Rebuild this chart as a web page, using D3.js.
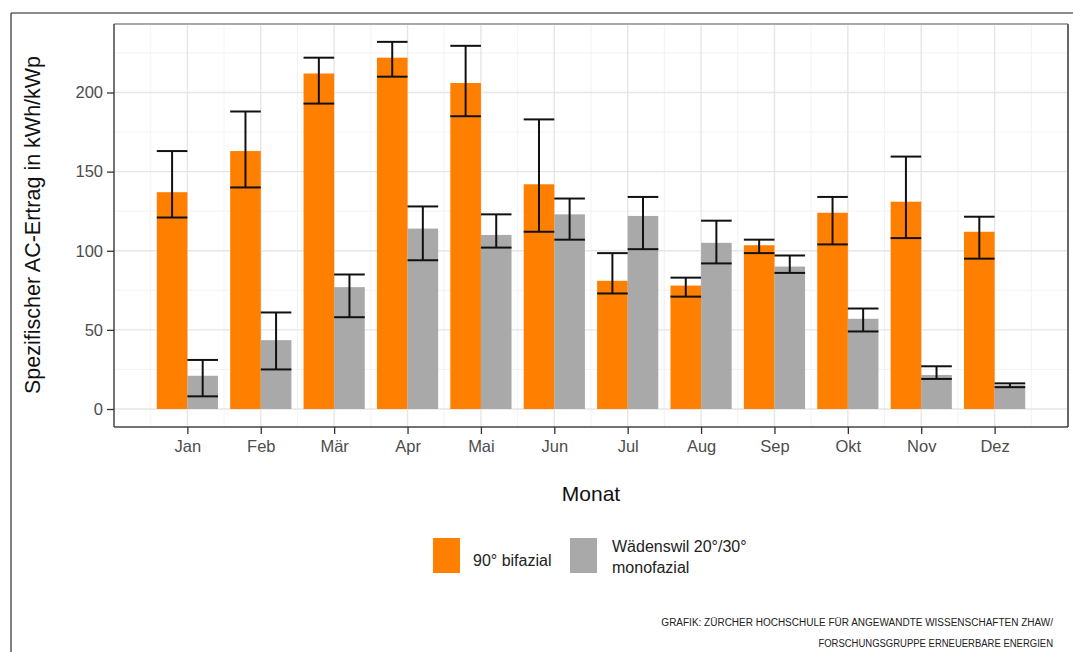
<!DOCTYPE html>
<html>
<head>
<meta charset="utf-8">
<script src="https://cdn.jsdelivr.net/npm/d3@7"></script>
<style>
  body { margin: 0; background: #fff; }
  text { font-family: "Liberation Sans", Arial, sans-serif; }
</style>
</head>
<body>
<svg id="chart" width="1073" height="652"></svg>
<script>
// data
var months = ["Jan", "Feb", "Mär", "Apr", "Mai", "Jun", "Jul", "Aug", "Sep", "Okt", "Nov", "Dez"];
var bifazial = [137, 163, 212, 222, 206, 142, 81, 78, 103.5, 124, 131, 112];
var bifazialLo = [121, 140, 193, 210, 185, 112, 73, 71, 98.5, 104, 108, 95];
var bifazialHi = [163, 188, 222, 232, 229.5, 183, 98.5, 83, 107, 134, 159.5, 121.5];
var monofazial = [21, 43.5, 77, 114, 110, 123, 122, 105, 90, 57, 21.5, 15];
var monofazialLo = [8, 25, 58, 94, 102, 107, 101, 92, 86, 49, 19, 13.8];
var monofazialHi = [31, 61, 85, 128, 123, 133, 134, 119, 97, 63.5, 27, 16.2];
var yTicks = [0, 50, 100, 150, 200];
var yMinor = [25, 75, 125, 175, 225];
var seriesNames = ["90° bifazial", "Wädenswil 20°/30°", "monofazial"];

var svg = d3.select("#chart");
svg.append("rect").attr("width", 1073).attr("height", 652).attr("fill", "#fff");

// outer frame (page border)
svg.append("line").attr("x1", 11).attr("x2", 1073).attr("y1", 13).attr("y2", 13)
  .attr("stroke", "#666").attr("stroke-width", 1.5);
svg.append("line").attr("x1", 11).attr("x2", 11).attr("y1", 13).attr("y2", 652)
  .attr("stroke", "#555").attr("stroke-width", 1.5);

var pLeft = 114, pRight = 1068, pTop = 24, pBottom = 427;

var y = d3.scaleLinear().domain([0, 200]).range([409, 92.5]);
var x = d3.scalePoint().domain(months).range([pLeft, pRight]).padding(1);
var step = x.step();
var barW = step * 0.417;

var g = svg.append("g");

// grid
g.selectAll(".ymin").data(yMinor).enter().append("line")
  .attr("x1", pLeft).attr("x2", pRight)
  .attr("y1", function(d) { return y(d); }).attr("y2", function(d) { return y(d); })
  .attr("stroke", "#f0f0f0").attr("stroke-width", 0.8);
g.selectAll(".xmin").data(d3.range(13)).enter().append("line")
  .attr("x1", function(i) { return x(months[0]) + (i - 0.5) * step; })
  .attr("x2", function(i) { return x(months[0]) + (i - 0.5) * step; })
  .attr("y1", pTop).attr("y2", pBottom)
  .attr("stroke", "#f0f0f0").attr("stroke-width", 0.8);
g.selectAll(".ymaj").data(yTicks).enter().append("line")
  .attr("x1", pLeft).attr("x2", pRight)
  .attr("y1", function(d) { return y(d); }).attr("y2", function(d) { return y(d); })
  .attr("stroke", "#e6e6e6").attr("stroke-width", 1.4);
g.selectAll(".xmaj").data(months).enter().append("line")
  .attr("x1", function(d) { return x(d); }).attr("x2", function(d) { return x(d); })
  .attr("y1", pTop).attr("y2", pBottom)
  .attr("stroke", "#e6e6e6").attr("stroke-width", 1.4);

// bars
function drawSeries(vals, color, off) {
  g.selectAll(null).data(months).enter().append("rect")
    .attr("x", function(d) { return x(d) + off; })
    .attr("y", function(d, i) { return y(vals[i]); })
    .attr("width", barW)
    .attr("height", function(d, i) { return y(0) - y(vals[i]); })
    .attr("fill", color);
}
drawSeries(bifazial, "#ff8000", -barW);
drawSeries(monofazial, "#a9a9a9", 0);

// error bars
function drawErr(lo, hi, off) {
  var eg = g.selectAll(null).data(months).enter().append("g")
    .attr("stroke", "#111").attr("stroke-width", 2);
  eg.append("line")
    .attr("x1", function(d) { return x(d) + off + barW / 2; })
    .attr("x2", function(d) { return x(d) + off + barW / 2; })
    .attr("y1", function(d, i) { return y(lo[i]); })
    .attr("y2", function(d, i) { return y(hi[i]); });
  eg.append("line")
    .attr("x1", function(d) { return x(d) + off; })
    .attr("x2", function(d) { return x(d) + off + barW; })
    .attr("y1", function(d, i) { return y(lo[i]); })
    .attr("y2", function(d, i) { return y(lo[i]); });
  eg.append("line")
    .attr("x1", function(d) { return x(d) + off; })
    .attr("x2", function(d) { return x(d) + off + barW; })
    .attr("y1", function(d, i) { return y(hi[i]); })
    .attr("y2", function(d, i) { return y(hi[i]); });
}
drawErr(bifazialLo, bifazialHi, -barW);
drawErr(monofazialLo, monofazialHi, 0);

// panel border
svg.append("line").attr("x1", pLeft).attr("x2", pRight).attr("y1", pTop).attr("y2", pTop)
  .attr("stroke", "#aaa").attr("stroke-width", 2);
svg.append("line").attr("x1", pLeft).attr("x2", pLeft).attr("y1", pTop).attr("y2", pBottom)
  .attr("stroke", "#444").attr("stroke-width", 1.5);
svg.append("line").attr("x1", pRight).attr("x2", pRight).attr("y1", pTop).attr("y2", pBottom)
  .attr("stroke", "#666").attr("stroke-width", 2);
svg.append("line").attr("x1", pLeft).attr("x2", pRight).attr("y1", pBottom).attr("y2", pBottom)
  .attr("stroke", "#444").attr("stroke-width", 1.5);

// axes
var yAxis = svg.append("g").attr("transform", "translate(" + pLeft + ",0)")
  .call(d3.axisLeft(y).tickValues(yTicks).tickSize(7).tickPadding(4));
var xAxis = svg.append("g").attr("transform", "translate(0," + pBottom + ")")
  .call(d3.axisBottom(x).tickSize(7).tickPadding(6));
[yAxis, xAxis].forEach(function(a) {
  a.select(".domain").remove();
  a.selectAll(".tick line").attr("stroke", "#333").attr("stroke-width", 1.3);
  a.selectAll(".tick text").attr("fill", "#4d4d4d")
    .style("font-family", "Liberation Sans, Arial, sans-serif").style("font-size", "16.5px");
});

// axis titles
svg.append("text").attr("x", 591).attr("y", 501).attr("text-anchor", "middle")
  .style("font-size", "21px").attr("fill", "#111").text("Monat");
svg.append("text").attr("transform", "translate(40,225) rotate(-90)")
  .attr("text-anchor", "middle").style("font-size", "21.5px").attr("fill", "#111")
  .text("Spezifischer AC-Ertrag in kWh/kWp");

// legend
svg.append("rect").attr("x", 433).attr("y", 538).attr("width", 27).attr("height", 35).attr("fill", "#ff8000");
svg.append("text").attr("x", 473).attr("y", 566).style("font-size", "16px").attr("fill", "#222").text(seriesNames[0]);
svg.append("rect").attr("x", 570).attr("y", 538).attr("width", 27).attr("height", 35).attr("fill", "#a9a9a9");
svg.append("text").attr("x", 612).attr("y", 552).style("font-size", "16px").attr("fill", "#222").text(seriesNames[1]);
svg.append("text").attr("x", 612).attr("y", 573).style("font-size", "16px").attr("fill", "#222").text(seriesNames[2]);

// credit, squeezed horizontally like a condensed face
var credit = ["GRAFIK: ZÜRCHER HOCHSCHULE FÜR ANGEWANDTE WISSENSCHAFTEN ZHAW/", "FORSCHUNGSGRUPPE ERNEUERBARE ENERGIEN"];
var creditW = [392, 235];
credit.forEach(function(t, i) {
  var cg = svg.append("g");
  var ct = cg.append("text").attr("x", 0).attr("y", 0).attr("text-anchor", "end")
    .style("font-size", "11.5px").attr("fill", "#222").text(t);
  var w = ct.node().getComputedTextLength();
  var sx = w > 0 ? creditW[i] / w : 1;
  cg.attr("transform", "translate(1053," + (626 + i * 21) + ") scale(" + sx + ",1)");
});
</script>
</body>
</html>
